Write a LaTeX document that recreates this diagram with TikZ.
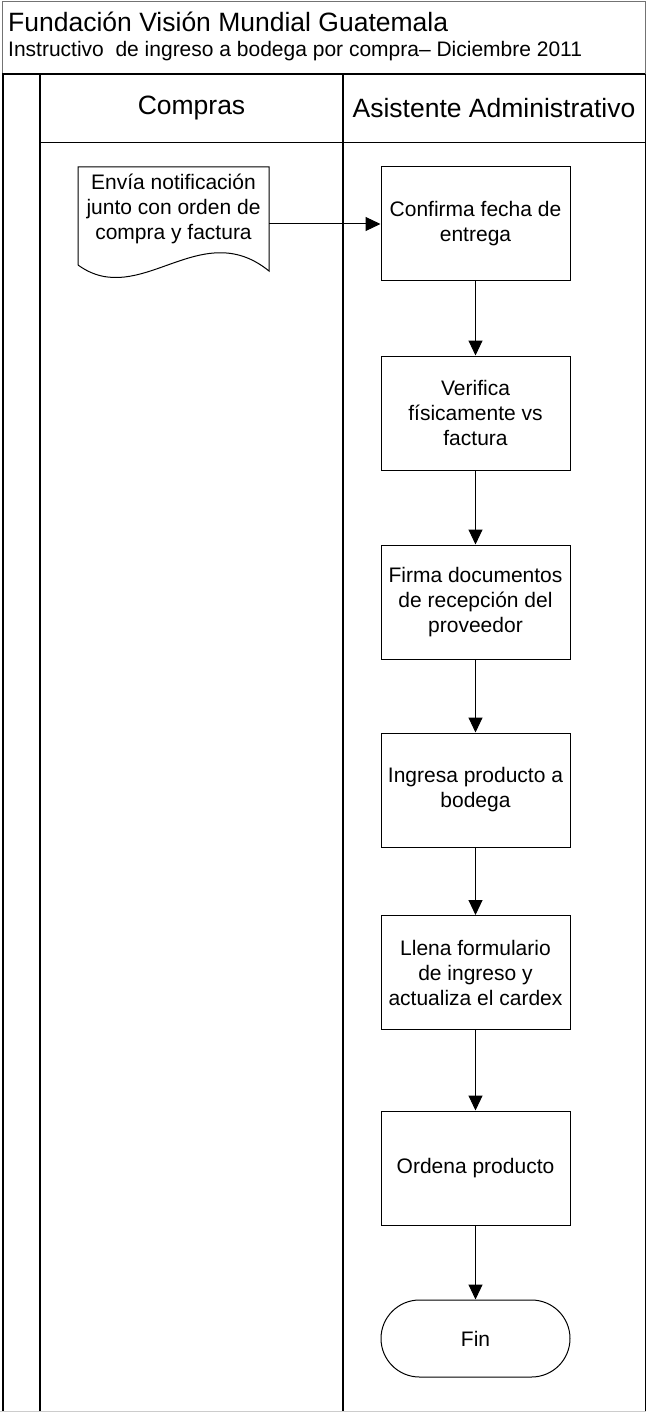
\documentclass[tikz,border=0pt]{standalone}
\usepackage{fontspec}
\setmainfont{Liberation Sans}
\usetikzlibrary{arrows.meta,calc}
\begin{document}
\begin{tikzpicture}[x=1pt,y=-1pt,
  bodyfont/.style={font=\fontsize{21}{25}\selectfont},
  stepbox/.style={draw=black,line width=1pt,minimum width=189pt,minimum height=114pt,
    inner sep=0pt,align=center,bodyfont},
  endbox/.style={draw=black,line width=1pt,minimum width=189pt,minimum height=77pt,
    inner sep=0pt,rounded corners=38.5pt,bodyfont},
  flow/.style={line width=1pt,-{Triangle[length=15pt,width=14pt]}},
  heading/.style={font=\fontsize{26.5}{30}\selectfont,inner sep=0pt},
  frameline/.style={draw=black!55,line width=1pt},
  laneline/.style={line width=1.3pt},
  thickline/.style={line width=2pt}]
\useasboundingbox (0,0) rectangle (646,1412);

% title block
\draw[frameline] (2,74) -- (2,1.5) -- (645,1.5) -- (645,74);
\node[heading,anchor=base west] (title) at (8,32) {Fundación Visión Mundial Guatemala};
\node[font=\fontsize{21}{25}\selectfont,inner sep=0pt,anchor=base west] (subtitle) at (8,57)
  {Instructivo\ \ de ingreso a bodega por compra– Diciembre 2011};

% swimlane grid
\draw[laneline] (2,74) -- (645,74);
\draw[line width=1pt] (40,143) -- (645,143);
\draw[thickline] (2.5,74) -- (2.5,1412);
\draw[thickline] (40,74) -- (40,1412);
\draw[laneline] (343,74) -- (343,1412);
\draw[line width=1pt] (645,74) -- (645,1412);
\draw[black!20,line width=1pt] (0,1411) -- (646,1411);

% lane headings
\node[heading] (lane1) at (191.5,108.5) {Compras};
\node[heading] (lane2) at (494,108.5) {Asistente Administrativo};

% document shape in the first lane
\node[bodyfont,align=center,inner sep=0pt,minimum width=191pt,minimum height=84pt] (doc)
  at (173.5,209) {Envía notificación\\junto con orden de\\compra y factura};
\draw[line width=1pt] (78,265) -- (78,167) -- (269,167) -- (269,271)
  .. controls (200,215) and (140,310) .. (78,265);

% process steps
\node[stepbox] (b1) at (475.5,224) {Confirma fecha de\\entrega};
\node[stepbox] (b2) at (475.5,413) {Verifica\\físicamente vs\\factura};
\node[stepbox] (b3) at (475.5,602) {Firma documentos\\de recepción del\\proveedor};
\node[stepbox] (b4) at (475.5,790) {Ingresa producto a\\bodega};
\node[stepbox] (b5) at (475.5,972.5) {Llena formulario\\de ingreso y\\actualiza el cardex};
\node[stepbox] (b6) at (475.5,1168) {Ordena producto};
\node[endbox] (fin) at (475.5,1338.5) {Fin};

% connectors
\draw[flow] (b1.west -| doc.east) -- (b1.west);
\draw[flow] (b1.south) -- (b2.north);
\draw[flow] (b2.south) -- (b3.north);
\draw[flow] (b3.south) -- (b4.north);
\draw[flow] (b4.south) -- (b5.north);
\draw[flow] (b5.south) -- (b6.north);
\draw[flow] (b6.south) -- (fin.north);
\end{tikzpicture}
\end{document}
